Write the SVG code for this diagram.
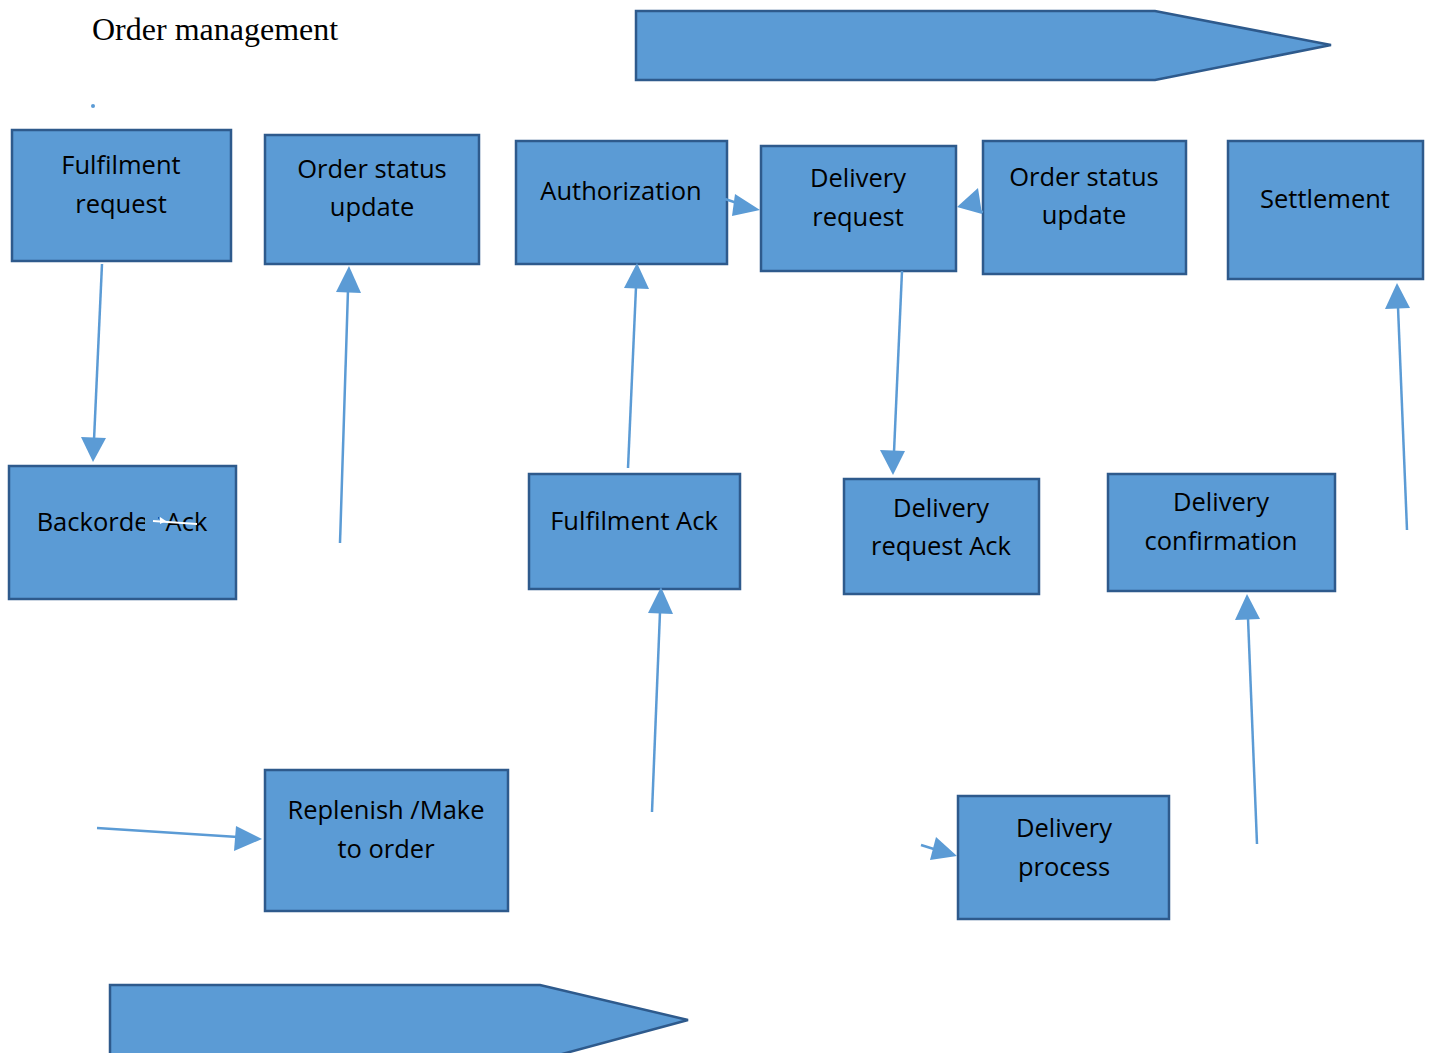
<svg xmlns="http://www.w3.org/2000/svg" width="1429" height="1053" viewBox="0 0 1429 1053">
<defs>
<style>
.box{fill:#5B9BD5;stroke:#2E5A8C;stroke-width:2.5}
.lbl{font-family:"Open Sans","Noto Sans",sans-serif;font-size:25.5px;fill:#000;text-anchor:middle}
.title{font-family:"Liberation Serif",serif;font-size:32px;fill:#000}
.con{stroke:#5B9BD5;stroke-width:2.5;fill:none}
.head{fill:#5B9BD5}
</style>
</defs>
<rect width="1429" height="1053" fill="#fff"/>
<text class="title" x="92" y="40">Order management</text>
<circle cx="93" cy="106" r="2" fill="#5B9BD5"/>
<g id="top-arrow"><polygon class="box" points="636,11 1155,11 1331,45 1155,80 636,80"/></g>
<g id="bottom-arrow"><polygon class="box" points="110,985 540,985 688,1020 540,1060 110,1060"/></g>

<g id="fulfilment-request"><rect class="box" x="12" y="130" width="219" height="131"/><text class="lbl" x="121" y="174">Fulfilment</text><text class="lbl" x="121" y="213">request</text></g>
<g id="order-status-update-1"><rect class="box" x="265" y="135" width="214" height="129"/><text class="lbl" x="372" y="178">Order status</text><text class="lbl" x="372" y="216">update</text></g>
<g id="authorization"><rect class="box" x="516" y="141" width="211" height="123"/><text class="lbl" x="621" y="200">Authorization</text></g>
<g id="delivery-request"><rect class="box" x="761" y="146" width="195" height="125"/><text class="lbl" x="858" y="187">Delivery</text><text class="lbl" x="858" y="226">request</text></g>
<g id="order-status-update-2"><rect class="box" x="983" y="141" width="203" height="133"/><text class="lbl" x="1084" y="186">Order status</text><text class="lbl" x="1084" y="224">update</text></g>
<g id="settlement"><rect class="box" x="1228" y="141" width="195" height="138"/><text class="lbl" x="1325" y="208">Settlement</text></g>
<g id="backorder-ack"><rect class="box" x="9" y="466" width="227" height="133"/><text class="lbl" x="122" y="531">Backorder Ack</text><rect x="145" y="505" width="13" height="28" fill="#5B9BD5"/><rect x="135" y="505" width="11" height="12" fill="#5B9BD5"/><line x1="153" y1="521" x2="197" y2="524" stroke="#fff" stroke-width="2"/><polygon points="160,517 166,521 160,524" fill="#fff"/></g>
<g id="fulfilment-ack"><rect class="box" x="529" y="474" width="211" height="115"/><text class="lbl" x="634" y="530">Fulfilment Ack</text></g>
<g id="delivery-request-ack"><rect class="box" x="844" y="479" width="195" height="115"/><text class="lbl" x="941" y="517">Delivery</text><text class="lbl" x="941" y="555">request Ack</text></g>
<g id="delivery-confirmation"><rect class="box" x="1108" y="474" width="227" height="117"/><text class="lbl" x="1221" y="511">Delivery</text><text class="lbl" x="1221" y="550">confirmation</text></g>
<g id="replenish"><rect class="box" x="265" y="770" width="243" height="141"/><text class="lbl" x="386" y="819">Replenish /Make</text><text class="lbl" x="386" y="858">to order</text></g>
<g id="delivery-process"><rect class="box" x="958" y="796" width="211" height="123"/><text class="lbl" x="1064" y="837">Delivery</text><text class="lbl" x="1064" y="876">process</text></g>

<g id="connectors">
<line class="con" x1="102" y1="264" x2="94" y2="440"/><polygon class="head" points="93,462 81,437 106,438"/>
<line class="con" x1="340" y1="543" x2="348" y2="290"/><polygon class="head" points="349,266 336,292 361,293"/>
<line class="con" x1="628" y1="468" x2="636" y2="287"/><polygon class="head" points="637,263 624,288 649,289"/>
<line class="con" x1="725" y1="199" x2="740" y2="204"/><polygon class="head" points="760,210 735,194 732,216"/>
<line class="con" x1="983" y1="212" x2="975" y2="210"/><polygon class="head" points="957,207 978,188 982,214"/>
<line class="con" x1="902" y1="271" x2="894" y2="452"/><polygon class="head" points="893,475 880,450 905,451"/>
<line class="con" x1="652" y1="812" x2="660" y2="612"/><polygon class="head" points="661,587 648,613 673,614"/>
<line class="con" x1="97" y1="828" x2="238" y2="837"/><polygon class="head" points="262,839 236,826 234,851"/>
<line class="con" x1="921" y1="845" x2="937" y2="850"/><polygon class="head" points="957,856 936,837 930,860"/>
<line class="con" x1="1257" y1="844" x2="1248" y2="618"/><polygon class="head" points="1247,594 1235,620 1260,619"/>
<line class="con" x1="1407" y1="530" x2="1398" y2="307"/><polygon class="head" points="1397,283 1385,309 1410,308"/>
</g>
</svg>
